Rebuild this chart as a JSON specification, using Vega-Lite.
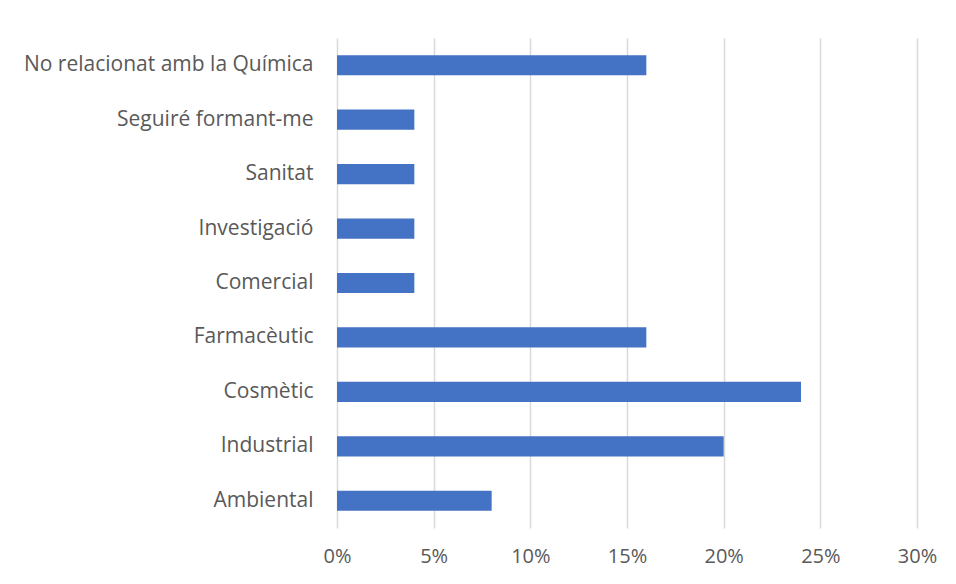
{
  "$schema": "https://vega.github.io/schema/vega-lite/v6.json",
  "width": 580,
  "height": 490,
  "autosize": "none",
  "padding": {"left": 337, "top": 38, "right": 39, "bottom": 56},
  "background": "white",
  "data": {
    "values": [
      {"categoria": "No relacionat amb la Química", "valor": 0.16},
      {"categoria": "Seguiré formant-me", "valor": 0.04},
      {"categoria": "Sanitat", "valor": 0.04},
      {"categoria": "Investigació", "valor": 0.04},
      {"categoria": "Comercial", "valor": 0.04},
      {"categoria": "Farmacèutic", "valor": 0.16},
      {"categoria": "Cosmètic", "valor": 0.24},
      {"categoria": "Industrial", "valor": 0.20},
      {"categoria": "Ambiental", "valor": 0.08}
    ]
  },
  "mark": {"type": "bar", "color": "#4472C4"},
  "encoding": {
    "y": {
      "field": "categoria",
      "type": "nominal",
      "sort": null,
      "scale": {"paddingInner": 0.63, "paddingOuter": 0.315},
      "axis": {
        "title": null,
        "domain": false,
        "ticks": false,
        "labelPadding": 24,
        "labelFont": "Open Sans",
        "labelFontSize": 21,
        "labelColor": "#595959",
        "labelLimit": 400
      }
    },
    "x": {
      "field": "valor",
      "type": "quantitative",
      "scale": {"domain": [0, 0.3], "nice": false},
      "axis": {
        "title": null,
        "format": ".0%",
        "values": [0, 0.05, 0.1, 0.15, 0.2, 0.25, 0.3],
        "domain": false,
        "ticks": false,
        "grid": true,
        "gridColor": "#D9D9D9",
        "gridWidth": 1.5,
        "labelFlush": false,
        "labelPadding": 18,
        "labelFont": "Open Sans",
        "labelFontSize": 20,
        "labelColor": "#595959"
      }
    }
  },
  "config": {"view": {"stroke": null}}
}
